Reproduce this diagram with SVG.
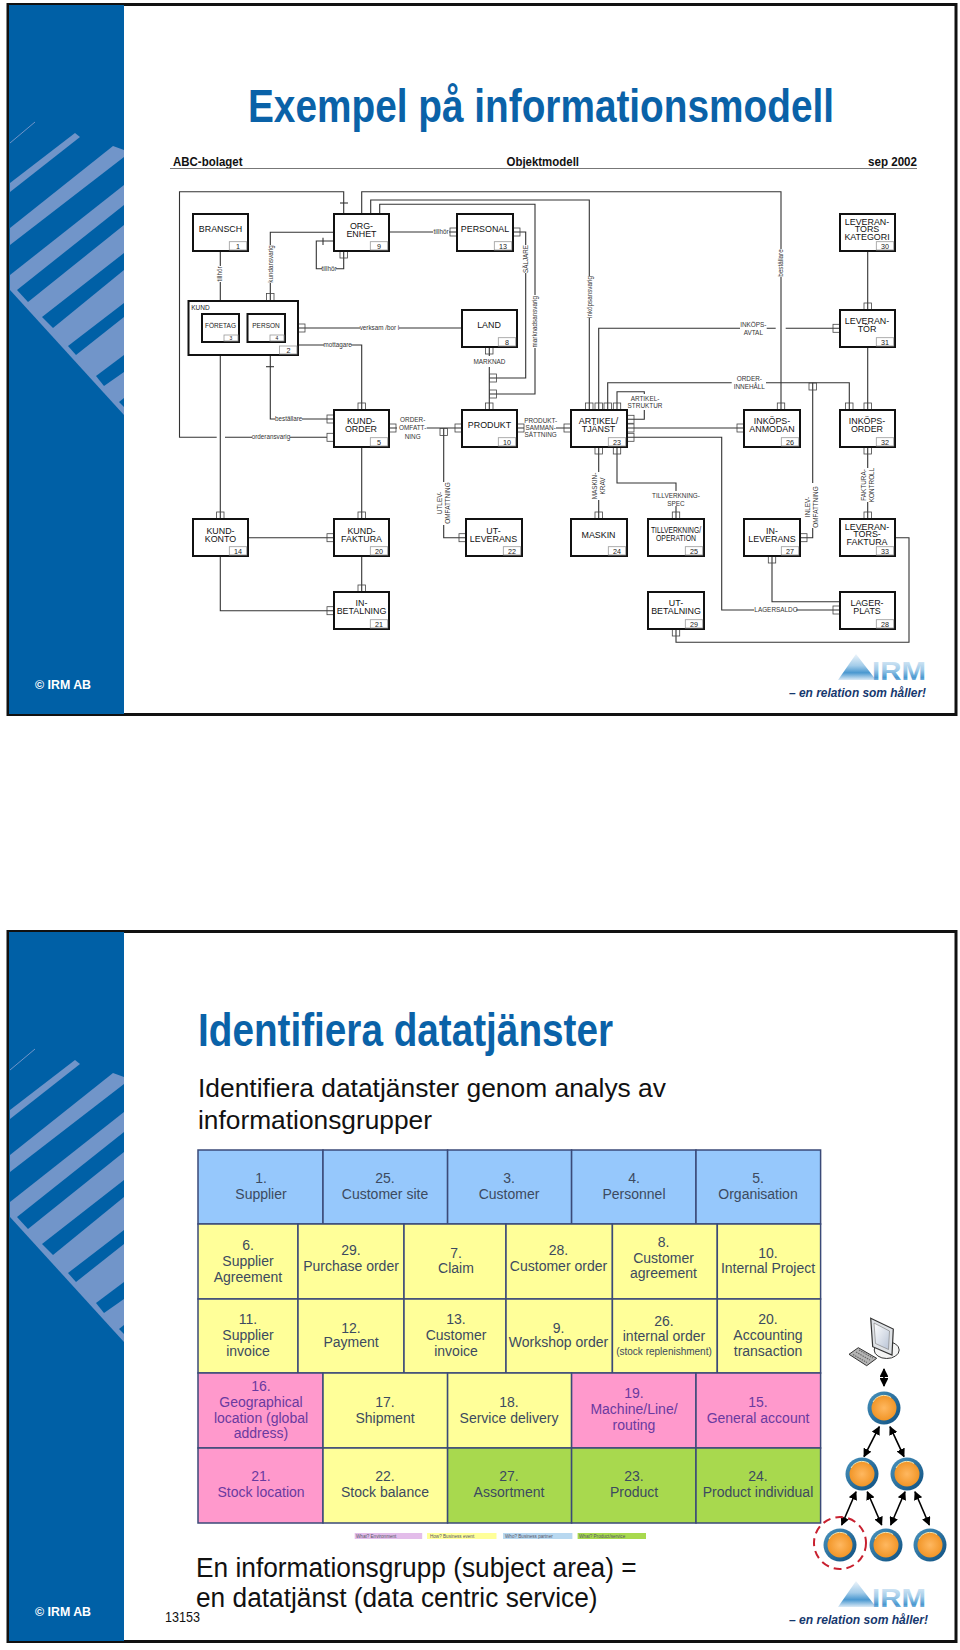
<svg xmlns="http://www.w3.org/2000/svg" width="960" height="1650" viewBox="0 0 960 1650">
<style>
text{font-family:"Liberation Sans",Arial,sans-serif}
.frame{fill:#fff;stroke:#111;stroke-width:3}
.bd{fill:#0060a6}.bl{fill:#7195c9}
.box{fill:#fff;stroke:#111;stroke-width:2}
.num{fill:#fff;stroke:#999;stroke-width:.8}
.n{font-size:8.9px;text-anchor:middle;fill:#111}
.s{font-size:6.5px;text-anchor:middle;fill:#222}
.nt{font-size:7.2px;text-anchor:middle;fill:#222}
.c{fill:none;stroke:#333;stroke-width:1.1}
.pin{fill:none;stroke:#444;stroke-width:.8}
.l{font-size:6.3px;text-anchor:middle;fill:#333}
.u{font-size:6.4px;text-anchor:middle;fill:#333}
.cell{stroke:#3b4a78;stroke-width:1.5}
.blue{fill:#96c8fc}.yel{fill:#ffff99}.pink{fill:#ff99cc}.grn{fill:#a8d94e}
.t{font-size:14px;text-anchor:middle;fill:#3c4a60}
.tp{font-size:14px;text-anchor:middle;fill:#6a3aa0}
.lg{font-size:4.6px;fill:#556}
.irm{font-size:13px;font-weight:bold;fill:#fff}
.tag{font-size:12.5px;font-weight:bold;font-style:italic;fill:#16386e}
.h{font-weight:bold;fill:#0a62a8}
.b{fill:#111}
.ar{fill:none;stroke:#000;stroke-width:1.6;marker-start:url(#ah);marker-end:url(#ah)}
</style>
<defs>
<marker id="ah" viewBox="0 0 10 10" refX="9" refY="5" markerWidth="5.5" markerHeight="5.5" orient="auto-start-reverse"><path d="M0 0L10 5L0 10Z" fill="#000"/></marker>
<linearGradient id="logo" x1="0" y1="0" x2="0" y2="1"><stop offset="0" stop-color="#eef5fb"/><stop offset=".45" stop-color="#a3cce9"/><stop offset=".72" stop-color="#4a98d0"/><stop offset="1" stop-color="#dbeaf6"/></linearGradient>
<radialGradient id="org" cx=".5" cy=".5" r=".55"><stop offset="0" stop-color="#ffb860"/><stop offset="1" stop-color="#f09222"/></radialGradient>
<linearGradient id="ring" x1="0" y1="0" x2="1" y2="1"><stop offset="0" stop-color="#4a93bd"/><stop offset="1" stop-color="#0d4f80"/></linearGradient>
<linearGradient id="scr" x1="0" y1="0" x2="1" y2="1"><stop offset="0" stop-color="#fff"/><stop offset="1" stop-color="#b9c4d6"/></linearGradient>
<g id="band">
<rect class="bd" x="9" y="5" width="115" height="709"/>
<path d="M10 143L35 122" stroke="#7195c9" stroke-width="1" fill="none"/>
<polygon class="bl" points="75,133 80,137 10,192 10,183"/>
<polygon class="bl" points="113,146 124,150 124,157 10,245 10,228"/>
<polygon class="bl" points="124,185 10,275 10,290 124,415"/>
<polygon class="bd" points="17,290 28,302 124,225 124,205"/>
<polygon class="bd" points="42,317 53,328 124,270 124,253"/>
<polygon class="bd" points="68,346 76,355 124,317 124,303"/>
<polygon class="bd" points="96,376 104,386 124,372 124,355"/>
<polygon class="bd" points="119,402 124,407 124,398"/>
</g>
<g id="logoMark">
<polygon points="838,680 856,654 876,680" fill="url(#logo)"/>
<text x="872" y="680" font-size="26" font-weight="bold" textLength="54" lengthAdjust="spacingAndGlyphs" fill="url(#logo)">IRM</text>
</g>
<g id="ball"><circle r="16.5" fill="url(#ring)"/><circle r="12.5" fill="url(#org)"/><path d="M-11 -6A12.5 12.5 0 0 1 7 -10.5" fill="none" stroke="#f4e6b0" stroke-width="1"/></g>
<rect id="pv" class="pin" x="-3.7" y="-3.5" width="7.4" height="7"/>
<rect id="ph" class="pin" x="-3.5" y="-4" width="7" height="8"/>
</defs>

<rect class="frame" x="8" y="4.5" width="948" height="710"/>
<use href="#band"/>
<text class="h" x="248" y="122" font-size="47" textLength="586" lengthAdjust="spacingAndGlyphs">Exempel på informationsmodell</text>
<text x="173" y="165.5" font-size="12" font-weight="bold" fill="#111" textLength="69.5" lengthAdjust="spacingAndGlyphs">ABC-bolaget</text>
<text x="506.5" y="165.5" font-size="12" font-weight="bold" fill="#111" textLength="72.5" lengthAdjust="spacingAndGlyphs">Objektmodell</text>
<text x="868" y="165.5" font-size="12" font-weight="bold" fill="#111" textLength="49" lengthAdjust="spacingAndGlyphs">sep 2002</text>
<path d="M170 168.5H917" stroke="#777" stroke-width="1"/>

<g id="connectors">
<path class="c" d="M343.7 214V191.7H179.5V437.3H216.7M225 437.3H252M290 437.3H327"/>
<path class="c" d="M340 203H348"/>
<path class="c" d="M361.7 214V191.7H781V249M781 277V410"/>
<path class="c" d="M370.7 214V200H589.3V276M589.3 318V410"/>
<path class="c" d="M379.7 214V204.3H535V295M535 348V394H489"/>
<path class="c" d="M513 232H525.7V245M525.7 273V378H489"/>
<path class="c" d="M389 232H433M449 232H457"/>
<path class="c" d="M334 241H316.3V268.7H322M336 268.7H343.7V251"/>
<path class="c" d="M323 237.7V245"/>
<path class="c" d="M334 232.3H270.3V245M270.3 283V301"/>
<path class="c" d="M220.3 251V266M220.3 282V314"/>
<path class="c" d="M298 328H360M399 328H462"/>
<path class="c" d="M298 345H324M351 345H361.7V410"/>
<path class="c" d="M270.3 355V419H275M302 419H334"/>
<path class="c" d="M266 366.7H274"/>
<path class="c" d="M220.3 355V519"/>
<path class="c" d="M361.7 447V519"/>
<path class="c" d="M389 428H397M426.7 428H462"/>
<path class="c" d="M443.7 428V482M443.7 525V537.7H466"/>
<path class="c" d="M248 537.7H334"/>
<path class="c" d="M220.3 556V610.7H334"/>
<path class="c" d="M361.7 556V592"/>
<path class="c" d="M489.3 347V356M489.3 367V410"/>
<path class="c" d="M517 428H524M556 428H571"/>
<path class="c" d="M598.7 410V328.3H740M766.7 328.3H775.7M785.7 328.3H840"/>
<path class="c" d="M607.7 410V382.7H731.7M766 382.7H849.3V410"/>
<path class="c" d="M812.7 382.7V483M812.7 528V537.7H800"/>
<path class="c" d="M617 410V391.7H644.3V394M644.3 410V419.3H627"/>
<path class="c" d="M627 428H744"/>
<path class="c" d="M627 437.3H721.7V610H754M796 610H840"/>
<path class="c" d="M598.7 447V472M598.7 500V519"/>
<path class="c" d="M617 447V483H676V491M676 506V519"/>
<path class="c" d="M867.7 251V310"/>
<path class="c" d="M867.7 347V410"/>
<path class="c" d="M867.7 447V468M867.7 502V519"/>
<path class="c" d="M895 537.7H909V642.3H676V629"/>
<path class="c" d="M772 556V601.7H840"/>
<g>
<use href="#pv" x="343.7" y="254.5"/>
<use href="#pv" x="270.3" y="297"/>
<use href="#pv" x="220.3" y="310.5"/>
<use href="#ph" x="301.5" y="328"/>
<use href="#ph" x="453.5" y="232"/>
<use href="#ph" x="516.5" y="232"/>
<use href="#ph" x="493" y="378"/>
<use href="#ph" x="493" y="394"/>
<use href="#pv" x="489.3" y="350.5"/>
<use href="#pv" x="489.3" y="406.5"/>
<use href="#pv" x="361.7" y="406.5"/>
<use href="#ph" x="330.5" y="419"/>
<use href="#ph" x="330.5" y="437.3"/>
<use href="#ph" x="392.5" y="428"/>
<use href="#ph" x="458.5" y="428"/>
<use href="#pv" x="443.7" y="432"/>
<use href="#ph" x="520.5" y="428"/>
<use href="#ph" x="567.5" y="428"/>
<use href="#pv" x="589.3" y="406.5"/>
<use href="#pv" x="598.7" y="406.5"/>
<use href="#pv" x="607.7" y="406.5"/>
<use href="#pv" x="617" y="406.5"/>
<use href="#ph" x="630.5" y="419.3"/>
<use href="#ph" x="630.5" y="428"/>
<use href="#ph" x="630.5" y="437.3"/>
<use href="#pv" x="598.7" y="450.5"/>
<use href="#pv" x="617" y="450.5"/>
<use href="#ph" x="740.5" y="428"/>
<use href="#pv" x="781" y="406.5"/>
<use href="#pv" x="849.3" y="406.5"/>
<use href="#pv" x="867.7" y="406.5"/>
<use href="#pv" x="812.7" y="386.5"/>
<use href="#ph" x="836.5" y="328.3"/>
<use href="#pv" x="867.7" y="306.5"/>
<use href="#pv" x="867.7" y="450.5"/>
<use href="#pv" x="220.3" y="515.5"/>
<use href="#pv" x="361.7" y="515.5"/>
<use href="#ph" x="330.5" y="537.7"/>
<use href="#ph" x="462.5" y="537.7"/>
<use href="#pv" x="598.7" y="515.5"/>
<use href="#pv" x="676" y="515.5"/>
<use href="#ph" x="803.5" y="537.7"/>
<use href="#pv" x="867.7" y="515.5"/>
<use href="#pv" x="772" y="559.5"/>
<use href="#pv" x="361.7" y="588.5"/>
<use href="#ph" x="330.5" y="610.7"/>
<use href="#ph" x="836.5" y="610"/>
<use href="#pv" x="676" y="632.5"/>
</g>
<g id="labels">
<text class="l" x="271" y="439.4">orderansvarig</text>
<text class="l" x="288.7" y="421">beställare</text>
<text class="l" x="337.7" y="347">mottagare</text>
<text class="l" x="379.5" y="330">verksam /bor i</text>
<text class="l" x="441" y="234">tillhör</text>
<text class="l" x="329" y="270.8">tillhör</text>
<text class="l" transform="rotate(-90 222.3 274)" x="222.3" y="274">tillhör</text>
<text class="l" transform="rotate(-90 272.5 264)" x="272.5" y="264">kundansvarig</text>
<text class="l" transform="rotate(-90 527.8 259)" x="527.8" y="259">SÄLJARE</text>
<text class="l" transform="rotate(-90 537.2 321.7)" x="537.2" y="321.7">marknadsansvarig</text>
<text class="l" transform="rotate(-90 591.5 297)" x="591.5" y="297">inköpsansvarig</text>
<text class="l" transform="rotate(-90 783.2 263)" x="783.2" y="263">beställare</text>
<text class="u" x="489.5" y="364">MARKNAD</text>
<text class="u" x="412.7" y="422">ORDER-</text><text class="u" x="412.7" y="430.2">OMFATT-</text><text class="u" x="412.7" y="438.5">NING</text>
<text class="u" x="540.7" y="422.7">PRODUKT-</text><text class="u" x="540.7" y="430.2">SAMMAN-</text><text class="u" x="540.7" y="436.8">SÄTTNING</text>
<text class="u" x="645" y="400.8">ARTIKEL-</text><text class="u" x="645" y="407.8">STRUKTUR</text>
<text class="u" x="753.3" y="327.2">INKÖPS-</text><text class="u" x="753.3" y="335.3">AVTAL</text>
<text class="u" x="749.3" y="380.5">ORDER-</text><text class="u" x="749.3" y="388.5">INNEHÅLL</text>
<text class="u" x="776" y="612.2">LAGERSALDO</text>
<text class="u" x="676" y="498">TILLVERKNING-</text><text class="u" x="676" y="505.5">SPEC</text>
<text class="u" transform="rotate(-90 441.5 503)" x="441.5" y="503">UTLEV-</text><text class="u" transform="rotate(-90 450 503)" x="450" y="503">OMFATTNING</text>
<text class="u" transform="rotate(-90 597 486)" x="597" y="486">MASKIN-</text><text class="u" transform="rotate(-90 605 486)" x="605" y="486">KRAV</text>
<text class="u" transform="rotate(-90 810 507)" x="810" y="507">INLEV-</text><text class="u" transform="rotate(-90 818 507)" x="818" y="507">OMFATTNING</text>
<text class="u" transform="rotate(-90 866 485)" x="866" y="485">FAKTURA-</text><text class="u" transform="rotate(-90 874 485)" x="874" y="485">KONTROLL</text>
</g>
</g>

<g id="n-1"><rect class="box" x="193" y="214" width="55" height="37"/><rect class="num" x="229.3" y="241.7" width="17.4" height="8.3"/><text class="n" x="220.5" y="232.3">BRANSCH</text><text class="nt" x="238" y="248.5">1</text></g>
<g id="n-9"><rect class="box" x="334" y="214" width="55" height="37"/><rect class="num" x="370.3" y="241.7" width="17.4" height="8.3"/><text class="n" x="361.5" y="228.7">ORG-</text><text class="n" x="361.5" y="236.7">ENHET</text><text class="nt" x="379" y="248.5">9</text></g>
<g id="n-13"><rect class="box" x="457" y="214" width="56" height="37"/><rect class="num" x="494.3" y="241.7" width="17.4" height="8.3"/><text class="n" x="485" y="232.3">PERSONAL</text><text class="nt" x="503" y="248.5">13</text></g>
<g id="n-30"><rect class="box" x="840" y="214" width="55" height="37"/><rect class="num" x="876.3" y="241.7" width="17.4" height="8.3"/><text class="n" x="867" y="225">LEVERAN-</text><text class="n" x="867" y="232.3">TORS</text><text class="n" x="867" y="240">KATEGORI</text><text class="nt" x="885" y="248.5">30</text></g>
<g id="n-2"><rect class="box" x="188.5" y="301" width="109.5" height="54"/><rect class="num" x="279.5" y="346" width="17.4" height="8"/><text class="s" x="200.5" y="310">KUND</text><text class="nt" x="288.5" y="353">2</text>
<g id="n-3"><rect class="box" x="202" y="314" width="37" height="28"/><rect class="num" x="224" y="335" width="14" height="6"/><text class="s" x="220.5" y="327.5">FÖRETAG</text><text x="231" y="340.3" font-size="5" text-anchor="middle" fill="#222">3</text></g>
<g id="n-4"><rect class="box" x="247.5" y="314" width="37.5" height="28"/><rect class="num" x="270" y="335" width="14" height="6"/><text class="s" x="266" y="327.5">PERSON</text><text x="277" y="340.3" font-size="5" text-anchor="middle" fill="#222">4</text></g></g>
<g id="n-8"><rect class="box" x="462" y="310" width="55" height="37"/><rect class="num" x="498.3" y="337.7" width="17.4" height="8.3"/><text class="n" x="489" y="328">LAND</text><text class="nt" x="507" y="344.5">8</text></g>
<g id="n-31"><rect class="box" x="840" y="310" width="55" height="37"/><rect class="num" x="876.3" y="337.7" width="17.4" height="8.3"/><text class="n" x="867" y="324">LEVERAN-</text><text class="n" x="867" y="331.5">TÖR</text><text class="nt" x="885" y="344.5">31</text></g>
<g id="n-5"><rect class="box" x="334" y="410" width="55" height="37"/><rect class="num" x="370.3" y="437.7" width="17.4" height="8.3"/><text class="n" x="361" y="424.3">KUND-</text><text class="n" x="361" y="432">ORDER</text><text class="nt" x="379" y="444.5">5</text></g>
<g id="n-10"><rect class="box" x="462" y="410" width="55" height="37"/><rect class="num" x="498.3" y="437.7" width="17.4" height="8.3"/><text class="n" x="489.5" y="428">PRODUKT</text><text class="nt" x="507" y="444.5">10</text></g>
<g id="n-23"><rect class="box" x="571" y="410" width="56" height="37"/><rect class="num" x="608.3" y="437.7" width="17.4" height="8.3"/><text class="n" x="598.5" y="424.3">ARTIKEL/</text><text class="n" x="598.5" y="432">TJÄNST</text><text class="nt" x="617" y="444.5">23</text></g>
<g id="n-26"><rect class="box" x="744" y="410" width="56" height="37"/><rect class="num" x="781.3" y="437.7" width="17.4" height="8.3"/><text class="n" x="772" y="424.3">INKÖPS-</text><text class="n" x="772" y="432">ANMODAN</text><text class="nt" x="790" y="444.5">26</text></g>
<g id="n-32"><rect class="box" x="840" y="410" width="55" height="37"/><rect class="num" x="876.3" y="437.7" width="17.4" height="8.3"/><text class="n" x="867" y="424.3">INKÖPS-</text><text class="n" x="867" y="432">ORDER</text><text class="nt" x="885" y="444.5">32</text></g>
<g id="n-14"><rect class="box" x="193" y="519" width="55" height="37"/><rect class="num" x="229.3" y="546.7" width="17.4" height="8.3"/><text class="n" x="220.5" y="533.5">KUND-</text><text class="n" x="220.5" y="541.5">KONTO</text><text class="nt" x="238" y="553.5">14</text></g>
<g id="n-20"><rect class="box" x="334" y="519" width="55" height="37"/><rect class="num" x="370.3" y="546.7" width="17.4" height="8.3"/><text class="n" x="361.5" y="533.5">KUND-</text><text class="n" x="361.5" y="541.5">FAKTURA</text><text class="nt" x="379" y="553.5">20</text></g>
<g id="n-22"><rect class="box" x="466" y="519" width="56" height="37"/><rect class="num" x="503.3" y="546.7" width="17.4" height="8.3"/><text class="n" x="493.5" y="533.5">UT-</text><text class="n" x="493.5" y="541.5">LEVERANS</text><text class="nt" x="512" y="553.5">22</text></g>
<g id="n-24"><rect class="box" x="571" y="519" width="56" height="37"/><rect class="num" x="608.3" y="546.7" width="17.4" height="8.3"/><text class="n" x="598.5" y="537.5">MASKIN</text><text class="nt" x="617" y="553.5">24</text></g>
<g id="n-25"><rect class="box" x="648" y="519" width="56" height="37"/><rect class="num" x="685.3" y="546.7" width="17.4" height="8.3"/><text class="n" x="676" y="533" textLength="50" lengthAdjust="spacingAndGlyphs">TILLVERKNING/</text><text class="n" x="676" y="541" textLength="40" lengthAdjust="spacingAndGlyphs">OPERATION</text><text class="nt" x="694" y="553.5">25</text></g>
<g id="n-27"><rect class="box" x="744" y="519" width="56" height="37"/><rect class="num" x="781.3" y="546.7" width="17.4" height="8.3"/><text class="n" x="772" y="533.5">IN-</text><text class="n" x="772" y="541.5">LEVERANS</text><text class="nt" x="790" y="553.5">27</text></g>
<g id="n-33"><rect class="box" x="840" y="519" width="55" height="37"/><rect class="num" x="876.3" y="546.7" width="17.4" height="8.3"/><text class="n" x="867" y="530">LEVERAN-</text><text class="n" x="867" y="537">TÖRS-</text><text class="n" x="867" y="545">FAKTURA</text><text class="nt" x="885" y="553.5">33</text></g>
<g id="n-21"><rect class="box" x="334" y="592" width="55" height="37"/><rect class="num" x="370.3" y="619.7" width="17.4" height="8.3"/><text class="n" x="361.5" y="606">IN-</text><text class="n" x="361.5" y="614">BETALNING</text><text class="nt" x="379" y="626.5">21</text></g>
<g id="n-29"><rect class="box" x="648" y="592" width="56" height="37"/><rect class="num" x="685.3" y="619.7" width="17.4" height="8.3"/><text class="n" x="676" y="606">UT-</text><text class="n" x="676" y="614">BETALNING</text><text class="nt" x="694" y="626.5">29</text></g>
<g id="n-28"><rect class="box" x="840" y="592" width="55" height="37"/><rect class="num" x="876.3" y="619.7" width="17.4" height="8.3"/><text class="n" x="867" y="606">LAGER-</text><text class="n" x="867" y="614">PLATS</text><text class="nt" x="885" y="626.5">28</text></g>

<text class="irm" x="35" y="689" textLength="56" lengthAdjust="spacingAndGlyphs">© IRM AB</text>
<use href="#logoMark"/>
<text class="tag" x="789" y="697" textLength="137" lengthAdjust="spacingAndGlyphs">– en relation som håller!</text>

<rect class="frame" x="8" y="931.5" width="948" height="710"/>
<use href="#band" y="927"/>
<text class="h" x="198" y="1046" font-size="46" textLength="415" lengthAdjust="spacingAndGlyphs">Identifiera datatjänster</text>
<text class="b" x="198" y="1097" font-size="26" textLength="468" lengthAdjust="spacingAndGlyphs">Identifiera datatjänster genom analys av</text>
<text class="b" x="198" y="1129" font-size="26" textLength="234" lengthAdjust="spacingAndGlyphs">informationsgrupper</text>

<g id="table">
<g id="c1"><rect class="cell blue" x="198" y="1150" width="125" height="74"/><text class="t" x="261" y="1183">1.</text><text class="t" x="261" y="1199">Supplier</text></g>
<g id="c25"><rect class="cell blue" x="323" y="1150" width="124.6" height="74"/><text class="t" x="385" y="1183">25.</text><text class="t" x="385" y="1199">Customer site</text></g>
<g id="c3"><rect class="cell blue" x="447.6" y="1150" width="124" height="74"/><text class="t" x="509" y="1183">3.</text><text class="t" x="509" y="1199">Customer</text></g>
<g id="c4"><rect class="cell blue" x="571.6" y="1150" width="124.4" height="74"/><text class="t" x="634" y="1183">4.</text><text class="t" x="634" y="1199">Personnel</text></g>
<g id="c5"><rect class="cell blue" x="696" y="1150" width="124.6" height="74"/><text class="t" x="758" y="1183">5.</text><text class="t" x="758" y="1199">Organisation</text></g>

<g id="c6"><rect class="cell yel" x="198" y="1224" width="100" height="75"/><text class="t" x="248" y="1250">6.</text><text class="t" x="248" y="1266">Supplier</text><text class="t" x="248" y="1282">Agreement</text></g>
<g id="c29"><rect class="cell yel" x="298" y="1224" width="106" height="75"/><text class="t" x="351" y="1255">29.</text><text class="t" x="351" y="1271">Purchase order</text></g>
<g id="c7"><rect class="cell yel" x="404" y="1224" width="102" height="75"/><text class="t" x="456" y="1258">7.</text><text class="t" x="456" y="1273">Claim</text></g>
<g id="c28"><rect class="cell yel" x="506" y="1224" width="106.4" height="75"/><text class="t" x="558.5" y="1255">28.</text><text class="t" x="558.5" y="1271">Customer order</text></g>
<g id="c8"><rect class="cell yel" x="612.4" y="1224" width="104.9" height="75"/><text class="t" x="663.5" y="1247">8.</text><text class="t" x="663.5" y="1263">Customer</text><text class="t" x="663.5" y="1278">agreement</text></g>
<g id="c10"><rect class="cell yel" x="717.3" y="1224" width="103.3" height="75"/><text class="t" x="768" y="1258">10.</text><text class="t" x="768" y="1273">Internal Project</text></g>

<g id="c11"><rect class="cell yel" x="198" y="1299" width="100" height="74"/><text class="t" x="248" y="1324">11.</text><text class="t" x="248" y="1340">Supplier</text><text class="t" x="248" y="1356">invoice</text></g>
<g id="c12"><rect class="cell yel" x="298" y="1299" width="106" height="74"/><text class="t" x="351" y="1333">12.</text><text class="t" x="351" y="1347">Payment</text></g>
<g id="c13"><rect class="cell yel" x="404" y="1299" width="102" height="74"/><text class="t" x="456" y="1324">13.</text><text class="t" x="456" y="1340">Customer</text><text class="t" x="456" y="1356">invoice</text></g>
<g id="c9"><rect class="cell yel" x="506" y="1299" width="106.4" height="74"/><text class="t" x="558.5" y="1333">9.</text><text class="t" x="558.5" y="1347">Workshop order</text></g>
<g id="c26"><rect class="cell yel" x="612.4" y="1299" width="104.9" height="74"/><text class="t" x="664" y="1326">26.</text><text class="t" x="664" y="1341">internal order</text><text class="t" x="664" y="1355" style="font-size:10px">(stock replenishment)</text></g>
<g id="c20"><rect class="cell yel" x="717.3" y="1299" width="103.3" height="74"/><text class="t" x="768" y="1324">20.</text><text class="t" x="768" y="1340">Accounting</text><text class="t" x="768" y="1356">transaction</text></g>

<g id="c16"><rect class="cell pink" x="198" y="1373" width="125" height="75"/><text class="tp" x="261" y="1391">16.</text><text class="tp" x="261" y="1407">Geographical</text><text class="tp" x="261" y="1423">location (global</text><text class="tp" x="261" y="1438">address)</text></g>
<g id="c17"><rect class="cell yel" x="323" y="1373" width="124.6" height="75"/><text class="t" x="385" y="1407">17.</text><text class="t" x="385" y="1423">Shipment</text></g>
<g id="c18"><rect class="cell yel" x="447.6" y="1373" width="124" height="75"/><text class="t" x="509" y="1407">18.</text><text class="t" x="509" y="1423">Service delivery</text></g>
<g id="c19"><rect class="cell pink" x="571.6" y="1373" width="124.4" height="75"/><text class="tp" x="634" y="1398">19.</text><text class="tp" x="634" y="1414">Machine/Line/</text><text class="tp" x="634" y="1430">routing</text></g>
<g id="c15"><rect class="cell pink" x="696" y="1373" width="124.6" height="75"/><text class="tp" x="758" y="1407">15.</text><text class="tp" x="758" y="1423">General account</text></g>

<g id="c21"><rect class="cell pink" x="198" y="1448" width="125" height="75"/><text class="tp" x="261" y="1481">21.</text><text class="tp" x="261" y="1497">Stock location</text></g>
<g id="c22"><rect class="cell yel" x="323" y="1448" width="124.6" height="75"/><text class="t" x="385" y="1481">22.</text><text class="t" x="385" y="1497">Stock balance</text></g>
<g id="c27"><rect class="cell grn" x="447.6" y="1448" width="124" height="75"/><text class="t" x="509" y="1481">27.</text><text class="t" x="509" y="1497">Assortment</text></g>
<g id="c23"><rect class="cell grn" x="571.6" y="1448" width="124.4" height="75"/><text class="t" x="634" y="1481">23.</text><text class="t" x="634" y="1497">Product</text></g>
<g id="c24"><rect class="cell grn" x="696" y="1448" width="124.6" height="75"/><text class="t" x="758" y="1481">24.</text><text class="t" x="758" y="1497">Product individual</text></g>
</g>

<g id="legend">
<rect x="354.7" y="1533" width="67.5" height="6" fill="#e3bdea"/><text class="lg" x="356" y="1537.7">What? Environment</text>
<rect x="427" y="1533" width="69.5" height="6" fill="#ffff99"/><text class="lg" x="430" y="1537.7">How? Business event</text>
<rect x="503" y="1533" width="69.4" height="6" fill="#b8d8f0"/><text class="lg" x="505" y="1537.7">Who? Business partner</text>
<rect x="577.6" y="1533" width="68.4" height="6" fill="#a8d94e"/><text class="lg" x="579" y="1537.7">What? Product/service</text>
</g>

<text class="b" x="196" y="1577" font-size="27" textLength="440.6" lengthAdjust="spacingAndGlyphs">En informationsgrupp (subject area) =</text>
<text class="b" x="196" y="1607" font-size="27" textLength="401.6" lengthAdjust="spacingAndGlyphs">en datatjänst (data centric service)</text>
<text class="b" x="165" y="1622" font-size="14" textLength="35" lengthAdjust="spacingAndGlyphs">13153</text>

<g id="computer">
<ellipse cx="886.7" cy="1350" rx="12.5" ry="8.5" fill="#f4f4f4" stroke="#333" stroke-width="1"/>
<polygon points="849,1354.3 858.3,1347.7 876.7,1358.3 866.7,1365.7" fill="#b5b5b5" stroke="#333" stroke-width="1"/>
<path d="M853 1354.5L867 1362.5M856 1352L870 1360M859 1350L873 1358" stroke="#666" stroke-width="1.2" stroke-dasharray="1.5 1" fill="none"/>
<polygon points="870.7,1318.3 893.3,1329 892,1355 872.7,1346.7" fill="#dfe2e6" stroke="#333" stroke-width="1.2"/>
<polygon points="874,1323 889.5,1331 888.5,1349.5 875.5,1343.5" fill="url(#scr)" stroke="#777" stroke-width=".6"/>
</g>
<g id="tree">
<path class="ar" d="M884 1369V1386"/>
<path class="ar" d="M879.3 1426.7L864 1456.7"/>
<path class="ar" d="M890 1426.7L904 1456.7"/>
<path class="ar" d="M856 1491.7L841.7 1525"/>
<path class="ar" d="M867.3 1491.7L881.7 1525"/>
<path class="ar" d="M905 1491.7L890.7 1525"/>
<path class="ar" d="M915 1491.7L929.3 1525"/>
<use href="#ball" x="884" y="1408"/>
<use href="#ball" x="862" y="1474"/>
<use href="#ball" x="907" y="1474"/>
<use href="#ball" x="840" y="1545"/>
<use href="#ball" x="886" y="1545"/>
<use href="#ball" x="930" y="1545"/>
<circle cx="840" cy="1543" r="26" fill="none" stroke="#c8202f" stroke-width="2" stroke-dasharray="8 5"/>
</g>

<text class="irm" x="35" y="1616" textLength="56" lengthAdjust="spacingAndGlyphs">© IRM AB</text>
<use href="#logoMark" y="927"/>
<text class="tag" x="789" y="1624" textLength="139" lengthAdjust="spacingAndGlyphs">– en relation som håller!</text>
</svg>
